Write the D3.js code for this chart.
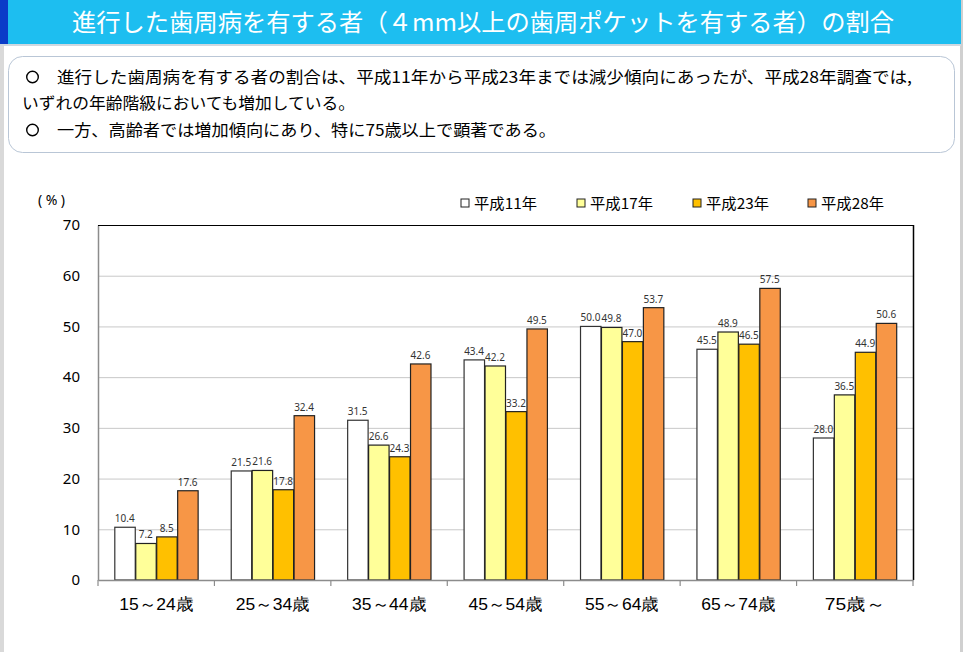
<!DOCTYPE html>
<html><head><meta charset="utf-8">
<script src="https://cdn.jsdelivr.net/npm/d3@7"></script>
<style>
html,body{margin:0;padding:0;background:#fff;}
svg{display:block;font-family:"Noto Sans CJK JP","Noto Sans",sans-serif;}
</style></head>
<body>
<script>
const categories = ["15～24歳","25～34歳","35～44歳","45～54歳","55～64歳","65～74歳","75歳～"];
const seriesNames = ["平成11年","平成17年","平成23年","平成28年"];
const h11 = [10.4,21.5,31.5,43.4,50.0,45.5,28.0];
const h17 = [7.2,21.6,26.6,42.2,49.8,48.9,36.5];
const h23 = [8.5,17.8,24.3,33.2,47.0,46.5,44.9];
const h28 = [17.6,32.4,42.6,49.5,53.7,57.5,50.6];
const seriesValues = [h11,h17,h23,h28];
const seriesColors = ["#FFFFFF","#FFFF99","#FFC000","#F79646"];
const yTicks = [0,10,20,30,40,50,60,70];
const titleText = "進行した歯周病を有する者（４mm以上の歯周ポケットを有する者）の割合";
const noteLines = [
  {bullet:true, text:"進行した歯周病を有する者の割合は、平成11年から平成23年までは減少傾向にあったが、平成28年調査では,"},
  {bullet:false, text:"いずれの年齢階級においても増加している。"},
  {bullet:true, text:"一方、高齢者では増加傾向にあり、特に75歳以上で顕著である。"}
];

const W = 963, H = 652;
const svg = d3.select("body").append("svg").attr("width",W).attr("height",H);

// page borders
svg.append("rect").attr("x",0).attr("y",0).attr("width",W).attr("height",H).attr("fill","#fff");
svg.append("rect").attr("x",0).attr("y",0).attr("width",4).attr("height",H).attr("fill","#d9d9d9");
svg.append("rect").attr("x",960).attr("y",0).attr("width",3).attr("height",H).attr("fill","#d0d0d0");

// title bar
svg.append("rect").attr("x",0).attr("y",44).attr("width",961).attr("height",2).attr("fill","#cfd8e0");
svg.append("rect").attr("x",0).attr("y",0).attr("width",961).attr("height",44).attr("fill","#1DBEF0");
svg.append("rect").attr("x",0).attr("y",0).attr("width",8).attr("height",44).attr("fill","#0A3CC8");
svg.append("text").attr("x",483).attr("y",31).attr("text-anchor","middle")
  .attr("fill","#fff").attr("font-size",24).attr("textLength",822).attr("lengthAdjust","spacingAndGlyphs")
  .text(titleText);

// note box
svg.append("rect").attr("x",8.5).attr("y",56.5).attr("width",946).attr("height",96).attr("rx",14)
  .attr("fill","#fff").attr("stroke","#b9c6d6").attr("stroke-width",1);
const noteG = svg.append("g").attr("font-size",16).attr("fill","#000");
const noteY = [83,109,136];
const noteX = [57,22,57];
const noteLen = [855,333,499];
noteLines.forEach((l,i)=>{
  if(l.bullet){
    noteG.append("circle").attr("cx",32.5).attr("cy",noteY[i]-6).attr("r",5.8).attr("fill","none").attr("stroke","#000").attr("stroke-width",1.4);
  }
  noteG.append("text").attr("x",noteX[i]).attr("y",noteY[i])
    .attr("textLength",noteLen[i]).attr("lengthAdjust","spacingAndGlyphs").text(l.text);
});

// chart
const pLeft=98, pRight=913, pTop=225, pBottom=580;
const y = d3.scaleLinear().domain([0,70]).range([pBottom,pTop]);
const x0 = d3.scaleBand().domain(categories).range([pLeft,pRight]).padding(0);
const bw = x0.bandwidth();
const x1 = d3.scaleBand().domain(seriesNames).range([bw*0.14,bw*0.86]).padding(0);

// gridlines
svg.append("g").selectAll("line").data(yTicks.filter(t=>t>0 && t<70)).join("line")
  .attr("x1",pLeft).attr("x2",pRight).attr("y1",d=>y(d)+0.5).attr("y2",d=>y(d)+0.5)
  .attr("stroke","#c8c8c8").attr("stroke-width",1);

// y axis
const yAxis = svg.append("g").attr("transform",`translate(${pLeft},0)`)
  .call(d3.axisLeft(y).tickValues(yTicks).tickSize(0).tickPadding(18));
yAxis.select(".domain").attr("stroke","#8c8c8c").attr("stroke-width",1.5);
yAxis.selectAll("text").attr("font-size",15).attr("fill","#000").attr("font-family","'Noto Sans',sans-serif");

// frame top & right
svg.append("line").attr("x1",pLeft).attr("x2",pRight+0.5).attr("y1",pTop+0.5).attr("y2",pTop+0.5).attr("stroke","#000").attr("stroke-width",1.2);
svg.append("line").attr("x1",pRight+0.5).attr("x2",pRight+0.5).attr("y1",pTop).attr("y2",pBottom).attr("stroke","#000").attr("stroke-width",1.5);

// bars
const groups = svg.append("g").selectAll("g").data(categories).join("g")
  .attr("transform",d=>`translate(${x0(d)},0)`);
groups.each(function(cat,ci){
  const g=d3.select(this);
  seriesNames.forEach((s,si)=>{
    const v=seriesValues[si][ci];
    g.append("rect").attr("x",x1(s)+0.5).attr("y",y(v)).attr("width",x1.bandwidth()-0.5).attr("height",pBottom-y(v))
      .attr("fill",seriesColors[si]).attr("stroke",si===0?"#333":"#222").attr("stroke-width",1.2);
    g.append("text").attr("x",x1(s)+x1.bandwidth()/2).attr("y",y(v)-5).attr("text-anchor","middle")
      .attr("font-size",10).attr("fill","#333").attr("font-family","'Noto Sans',sans-serif")
      .text(v.toFixed(1));
  });
});

// x axis
const xAxis = svg.append("g").attr("transform",`translate(0,${pBottom})`)
  .call(d3.axisBottom(x0).tickSize(0).tickPadding(18));
xAxis.select(".domain").attr("stroke","#8c8c8c").attr("stroke-width",1.5);
xAxis.selectAll("text").attr("font-size",17).attr("fill","#000")
  .attr("textLength",d=>d.length===4?60:74).attr("lengthAdjust","spacingAndGlyphs");
svg.append("g").selectAll("line").data(d3.range(categories.length+1)).join("line")
  .attr("x1",i=>pLeft+bw*i).attr("x2",i=>pLeft+bw*i).attr("y1",pBottom).attr("y2",pBottom+6)
  .attr("stroke","#8c8c8c").attr("stroke-width",1.2);

// unit label
svg.append("text").attr("x",38).attr("y",205).attr("font-size",14).attr("fill","#000")
  .attr("font-family","'Noto Sans',sans-serif")
  .attr("textLength",27).attr("lengthAdjust","spacing").text("(%)");

// legend
const legX=[461,577,693,808];
const leg = svg.append("g");
seriesNames.forEach((s,i)=>{
  leg.append("rect").attr("x",legX[i]).attr("y",199).attr("width",8).attr("height",8)
    .attr("fill",seriesColors[i]).attr("stroke","#222").attr("stroke-width",1);
  leg.append("text").attr("x",legX[i]+13).attr("y",209).attr("font-size",15).attr("fill","#000")
    .attr("textLength",63).attr("lengthAdjust","spacingAndGlyphs").text(s);
});
</script>
</body></html>
